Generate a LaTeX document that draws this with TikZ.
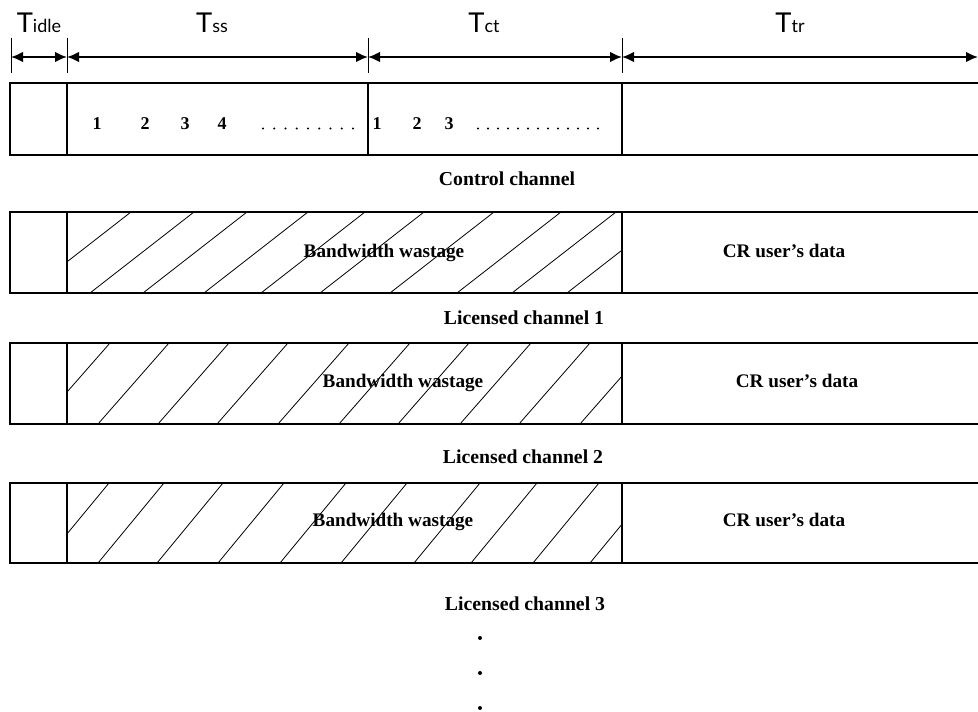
\documentclass[tikz,border=0pt]{standalone}
\usepackage{fontspec}
\setmainfont{Liberation Serif}
\newfontfamily\spanfont{Lato}
\usetikzlibrary{arrows.meta}
\usetikzlibrary{positioning}
\tikzset{span/.style = {{Latex[length=9pt,width=8pt]}-{Latex[length=9pt,width=8pt]},
                        line width=1.4pt},
         tick/.style = {line width=0.6pt},
         slot/.style = {line width=0.9pt},
         hatch/.style = {line width=0.6pt},
         lbl/.style = {font=\bfseries\fontsize{14.8}{18}\selectfont, inner sep=0pt, anchor=base},
         boxlbl/.style = {font=\bfseries\fontsize{14.4}{18}\selectfont, inner sep=0pt, anchor=base},
         num/.style = {font=\bfseries\fontsize{13.5}{16}\selectfont, inner sep=0pt, anchor=base},
         tlbl/.style = {font=\spanfont, inner sep=0pt, anchor=base}}
\newcommand{\Tspan}[1]{{\fontsize{20.5}{24}\selectfont T}{\fontsize{13.5}{15}\selectfont #1}}

\begin{document}
\begin{tikzpicture}[x=0.75pt, y=-0.75pt]
      \useasboundingbox (0,0) rectangle (978,712);
      \clip (0,0) rectangle (978,712);
      % time spans
      \foreach \x/\n in {11/0, 67/1, 368/2, 622/3} {
        \draw [tick] (\x,38) -- (\x,73);
        \coordinate (t\n) at (\x,57);
      }
      \coordinate (t4) at (978,57);
      \draw [span] (t0) -- (t1);
      \draw [span] (t1) -- (t2);
      \draw [span] (t2) -- (t3);
      \draw [span] (t3) -- (t4);
      \node [tlbl] (tidle) at (39,33) {\Tspan{idle}};
      \node [tlbl] (tss) at (212,33) {\Tspan{ss}};
      \node [tlbl] (tct) at (484,33) {\Tspan{ct}};
      \node [tlbl] (ttr) at (790,33) {\Tspan{tr}};
      % control channel
      \draw [slot] (10,83) rectangle (995,155);
      \draw [slot] (67,83) -- (67,155);
      \draw [slot] (368,83) -- (368,155);
      \draw [slot] (622,83) -- (622,155);
      \foreach \x [count=\i] in {97,145,185,222}
        \node [num] (s\i) at (\x,130) {\i};
      \foreach \x in {263,274.25,...,354}
        \fill (\x,128.5) circle (1.2);
      \foreach \x [count=\i] in {377,417,449}
        \node [num] (c\i) at (\x,130) {\i};
      \foreach \x in {478,488,...,598}
        \fill (\x,128.5) circle (1.2);
      \node [lbl] (ctrl) at (507,185.5) {Control channel};
      % licensed channel 1
      \draw [slot] (10,212) rectangle (995,293);
      \draw [slot] (67,212) -- (67,293);
      \draw [slot] (622,212) -- (622,293);
      \begin{scope}
        \clip (67,212) rectangle (622,293);
        \foreach \b in {27,90,143,204,261,320,390,457,512,567}
          \draw [hatch] (\b,293) -- ++(104,-81);
      \end{scope}
      \node [boxlbl] (bw1) at (384,258) {Bandwidth wastage};
      \node [boxlbl] (cr1) at (784,258) {CR user's data};
      \node [lbl] (lic1) at (524,324.5) {Licensed channel 1};
      % licensed channel 2
      \draw [slot] (10,343) rectangle (995,424);
      \draw [slot] (67,343) -- (67,424);
      \draw [slot] (622,343) -- (622,424);
      \begin{scope}
        \clip (67,343) rectangle (622,424);
        \foreach \b in {39,98,158,217,278,339,398,460,519,580}
          \draw [hatch] (\b,424) -- ++(71,-81);
      \end{scope}
      \node [boxlbl] (bw2) at (403,388) {Bandwidth wastage};
      \node [boxlbl] (cr2) at (797,388) {CR user's data};
      \node [lbl] (lic2) at (523,463.5) {Licensed channel 2};
      % licensed channel 3
      \draw [slot] (10,483) rectangle (995,563);
      \draw [slot] (67,483) -- (67,563);
      \draw [slot] (622,483) -- (622,563);
      \begin{scope}
        \clip (67,483) rectangle (622,563);
        \foreach \b in {43,98,157,218,280,341,414,471,533,590}
          \draw [hatch] (\b,563) -- ++(66,-80);
      \end{scope}
      \node [boxlbl] (bw3) at (393,527) {Bandwidth wastage};
      \node [boxlbl] (cr3) at (784,527) {CR user's data};
      \node [lbl] (lic3) at (525,610.5) {Licensed channel 3};
      \foreach \y in {638,673,708}
        \fill (480,\y) circle (2);
\end{tikzpicture}
\end{document}
